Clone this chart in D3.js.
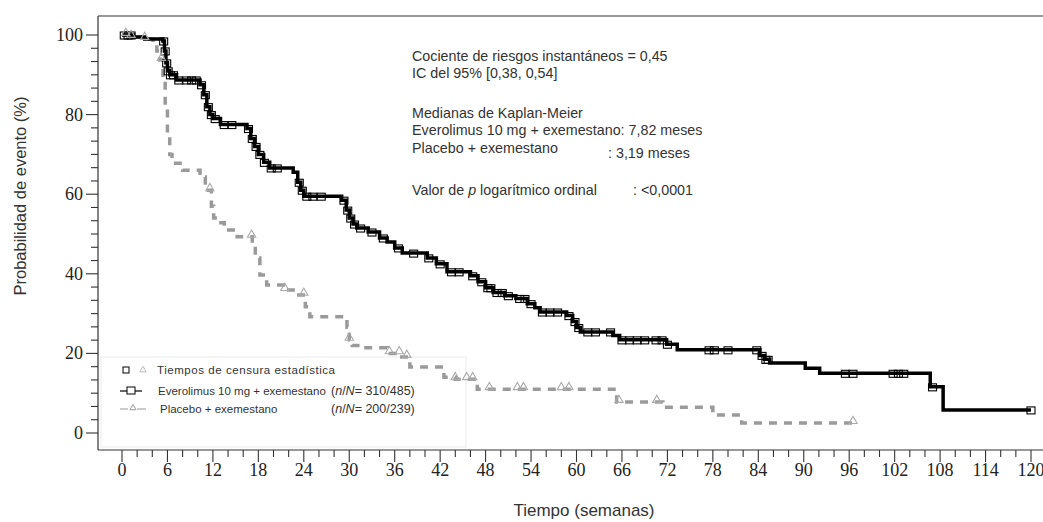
<!DOCTYPE html>
<html>
<head>
<meta charset="utf-8">
<script src="https://cdn.jsdelivr.net/npm/d3@7"></script>
<style>
  html, body { margin: 0; padding: 0; background: #fff; }
  svg { display: block; }
</style>
</head>
<body>
<svg id="chart" width="1043" height="522"></svg>
<script>
// Kaplan-Meier curves: [week, % without event]
const EVE_STEPS = [
  [0, 100], [1.5, 99.5], [3, 99], [5.4, 98.5], [5.6, 96], [5.8, 93], [6.0, 91], [6.3, 90], [7.2, 88.7],
  [10.3, 87.5], [10.8, 85], [11.2, 82], [11.6, 80], [12, 79], [13, 77.5], [16.5, 76.5], [17, 74],
  [17.5, 72], [18, 70], [18.7, 68], [19.5, 66.6], [22.6, 65.5], [23.2, 63], [23.6, 61], [24, 59.5],
  [29, 58.5], [29.6, 56], [30, 54], [30.5, 52.5], [31, 51.5], [32.5, 50.5], [34, 49], [35, 48],
  [36, 46.5], [37, 45.2], [40.3, 44], [41.5, 42.5], [42.9, 40.5], [46, 39.5], [47, 38], [48, 36.5],
  [49, 35.3], [50.5, 34.5], [52, 33.8], [53.5, 32.5], [54.5, 31.5], [55.2, 30.4], [58.7, 29.5],
  [59.5, 28], [60, 26.5], [60.5, 25.4], [64.8, 24.5], [65.7, 23.4], [71.9, 22.3], [73.3, 20.9],
  [84.2, 19.5], [84.8, 18.5], [85.5, 17.6], [90.2, 16.3], [92.1, 15], [106.7, 11.6], [108.4, 5.8],
  [120, 5.8]
];
const PLA_STEPS = [
  [0, 100], [1, 99.5], [2.8, 99], [4.1, 98], [4.6, 96], [5, 93.7], [5.4, 88.7], [5.7, 82], [6, 75],
  [6.3, 70], [6.6, 67.8], [8, 66], [10.3, 64.3], [11, 62], [11.4, 61], [11.8, 57], [12.1, 54],
  [12.3, 52.8], [13.5, 51], [15.2, 49.3], [17.2, 47.7], [17.6, 44], [18.2, 39.7], [19.1, 37.2],
  [21.3, 35.9], [23, 34.7], [24.2, 31.7], [24.8, 29.2], [29.7, 26.6], [30, 23.4], [30.4, 22],
  [31.5, 21.4], [35, 20], [36.7, 19.1], [38, 16.6], [42.5, 14], [44, 13.5], [46.9, 11],
  [65.3, 7.8], [71.4, 6.5], [78, 4.5], [81.8, 2.5], [96.5, 2.5]
];
// censoring times (weeks)
const EVE_CENSOR = [0.3, 0.8, 1.2, 5.5, 5.7, 5.9, 6.1, 6.4, 6.8, 7.5, 8.5, 9.2, 9.8, 10.5, 11, 11.4,
  11.8, 12.3, 13.5, 14.5, 16.7, 17.2, 17.7, 18.2, 18.8, 19.7, 20.5, 23.4, 23.8, 24.4, 25.2, 26.3,
  29.3, 29.8, 30.2, 30.7, 31.5, 33, 34.5, 36.5, 38.5, 40.5, 42, 43.5, 44.5, 46.3, 47.5, 48.3, 48.7,
  49.5, 50.2, 51, 52.5, 53.2, 54, 55.5, 56.5, 57.5, 59, 59.8, 60.3, 61.5, 62.5, 64.5, 66, 67, 68,
  69, 70.5, 71.3, 72, 77.5, 78.2, 80, 83.8, 84.5, 85, 85.3, 95.5, 96.5, 101.8, 102.5, 103.2, 107,
  120];
const PLA_CENSOR = [0.5, 1.2, 3, 5.2, 11.6, 17.1, 21.5, 24, 30, 35.3, 36.6, 37.6, 44, 45.5, 46.3,
  48.5, 52.2, 53, 58, 59, 65.6, 70.6, 96.5];

const Y_LABELS = [0, 20, 40, 60, 80, 100];
const X_LABELS = d3.range(0, 121, 6);

const STATS_LINES = [
  "Cociente de riesgos instantáneos = 0,45",
  "IC del 95% [0,38, 0,54]",
  "Medianas de Kaplan-Meier",
  "Everolimus 10 mg + exemestano: 7,82 meses",
  "Placebo + exemestano"
];

const svg = d3.select("#chart");
const x = d3.scaleLinear().domain([0, 120]).range([122, 1031]);
const y = d3.scaleLinear().domain([0, 100]).range([433, 35]);

const INK = "#222";
const GREY = "#9a9a9a";
const SANS = "'Liberation Sans', Arial, sans-serif";
const SERIF = "'Liberation Serif', 'Times New Roman', serif";

// frame: top, left, bottom (axis) — no right edge
const frame = svg.append("g").attr("stroke", "#333").attr("stroke-width", 1.2);
frame.append("line").attr("x1", 98).attr("x2", 1043).attr("y1", 16).attr("y2", 16);
frame.append("line").attr("x1", 98).attr("x2", 98).attr("y1", 16).attr("y2", 450);
frame.append("line").attr("x1", 98).attr("x2", 1043).attr("y1", 450).attr("y2", 450);

// y ticks: minors every 10/3, labelled every 20
const yTicks = d3.range(0, 31).map((i) => i * 10 / 3);
svg.append("g").selectAll("line").data(yTicks).join("line")
  .attr("x1", (d) => (Math.round(d) % 20 === 0 ? 86 : 91)).attr("x2", 98)
  .attr("y1", (d) => y(d)).attr("y2", (d) => y(d))
  .attr("stroke", "#333").attr("stroke-width", 1.1);
svg.append("g").selectAll("text").data(Y_LABELS).join("text")
  .attr("x", 83).attr("y", (d) => y(d) + 6)
  .attr("text-anchor", "end").attr("font-family", SERIF).attr("font-size", 18).attr("fill", INK)
  .text((d) => d);

// x ticks: minors every 2 weeks, labelled every 6
svg.append("g").selectAll("line").data(d3.range(0, 121, 2)).join("line")
  .attr("x1", (d) => x(d)).attr("x2", (d) => x(d))
  .attr("y1", 450).attr("y2", (d) => (d % 6 === 0 ? 462 : 457))
  .attr("stroke", "#333").attr("stroke-width", 1.1);
svg.append("g").selectAll("text").data(X_LABELS).join("text")
  .attr("x", (d) => x(d)).attr("y", 476)
  .attr("text-anchor", "middle").attr("font-family", SERIF).attr("font-size", 18).attr("fill", INK)
  .text((d) => d);

// axis titles
svg.append("text")
  .attr("transform", "translate(26,196) rotate(-90)")
  .attr("text-anchor", "middle").attr("font-family", SANS).attr("font-size", 16.5).attr("fill", "#333")
  .text("Probabilidad de evento (%)");
svg.append("text")
  .attr("x", 584).attr("y", 516)
  .attr("text-anchor", "middle").attr("font-family", SANS).attr("font-size", 17).attr("fill", "#333")
  .text("Tiempo (semanas)");

// legend panel (faint)
svg.append("rect").attr("x", 101).attr("y", 357).attr("width", 365).attr("height", 90)
  .attr("fill", "none").attr("stroke", "#ececec").attr("stroke-width", 1);

// curves
const step = d3.line().curve(d3.curveStepAfter).x((d) => x(d[0])).y((d) => y(d[1]));
svg.append("path").datum(PLA_STEPS).attr("d", step)
  .attr("fill", "none").attr("stroke", GREY).attr("stroke-width", 3.5)
  .attr("stroke-dasharray", "8,7");
svg.append("path").datum(EVE_STEPS).attr("d", step)
  .attr("fill", "none").attr("stroke", "#000").attr("stroke-width", 3.5);

// censor marks sit on the curve value at that time
const byTime = d3.bisector((d) => d[0]).right;
const valueAt = (steps, t) => steps[Math.max(0, byTime(steps, t) - 1)][1];

const sq = 8;
svg.append("g").selectAll("rect").data(EVE_CENSOR).join("rect")
  .attr("x", (d) => x(d) - sq / 2).attr("y", (d) => y(valueAt(EVE_STEPS, d)) - sq / 2 + 1)
  .attr("width", sq).attr("height", sq - 1)
  .attr("fill", "none").attr("stroke", "#000").attr("stroke-width", 1.1);

const tri = d3.symbol().type(d3.symbolTriangle).size(30);
svg.append("g").selectAll("path").data(PLA_CENSOR).join("path")
  .attr("d", tri)
  .attr("transform", (d) => `translate(${x(d)},${y(valueAt(PLA_STEPS, d)) - 2})`)
  .attr("fill", "none").attr("stroke", "#aaa").attr("stroke-width", 1.1);

// stats block
const statsY = [61, 78, 118, 135, 153];
const stats = svg.append("g").attr("font-family", SANS).attr("font-size", 14.3).attr("fill", "#333");
stats.selectAll("text.s").data(STATS_LINES).join("text").attr("class", "s")
  .attr("x", 412).attr("y", (d, i) => statsY[i])
  .text((d) => d);
stats.append("text").attr("x", 608).attr("y", 158).text(": 3,19 meses");
const pv = stats.append("text").attr("x", 412).attr("y", 195);
pv.append("tspan").text("Valor de ");
pv.append("tspan").attr("font-style", "italic").text("p");
pv.append("tspan").text(" logarítmico ordinal");
stats.append("text").attr("x", 633).attr("y", 195).text(": <0,0001");

// legend
const lg = svg.append("g").attr("font-family", SANS).attr("font-size", 11.5).attr("fill", "#333");
lg.append("rect").attr("x", 123).attr("y", 367).attr("width", 6).attr("height", 6)
  .attr("fill", "none").attr("stroke", "#000").attr("stroke-width", 1);
lg.append("path").attr("d", d3.symbol().type(d3.symbolTriangle).size(18))
  .attr("transform", "translate(143,370)").attr("fill", "none").attr("stroke", "#bbb");
lg.append("text").attr("x", 157).attr("y", 374).attr("textLength", 178).attr("lengthAdjust", "spacing")
  .text("Tiempos de censura estadística");

lg.append("line").attr("x1", 120).attr("x2", 142).attr("y1", 391).attr("y2", 391)
  .attr("stroke", "#000").attr("stroke-width", 1.2);
lg.append("rect").attr("x", 127).attr("y", 387).attr("width", 8).attr("height", 7)
  .attr("fill", "#fff").attr("stroke", "#000").attr("stroke-width", 1);
lg.append("text").attr("x", 158).attr("y", 395).text("Everolimus 10 mg + exemestano");

lg.append("line").attr("x1", 120).attr("x2", 146).attr("y1", 409).attr("y2", 409)
  .attr("stroke", GREY).attr("stroke-width", 1.2).attr("stroke-dasharray", "8,4,0,5,4,0");
lg.append("path").attr("d", d3.symbol().type(d3.symbolTriangle).size(16))
  .attr("transform", "translate(133,408)").attr("fill", "#fff").attr("stroke", GREY);
lg.append("text").attr("x", 160).attr("y", 413).text("Placebo + exemestano");

[[395, "310/485"], [413, "200/239"]].forEach(([yy, frac]) => {
  const t = lg.append("text").attr("x", 331).attr("y", yy).attr("font-size", 12.5);
  t.append("tspan").text("(");
  t.append("tspan").attr("font-style", "italic").text("n");
  t.append("tspan").text("/");
  t.append("tspan").attr("font-style", "italic").text("N");
  t.append("tspan").text("= " + frac + ")");
});
</script>
</body>
</html>
